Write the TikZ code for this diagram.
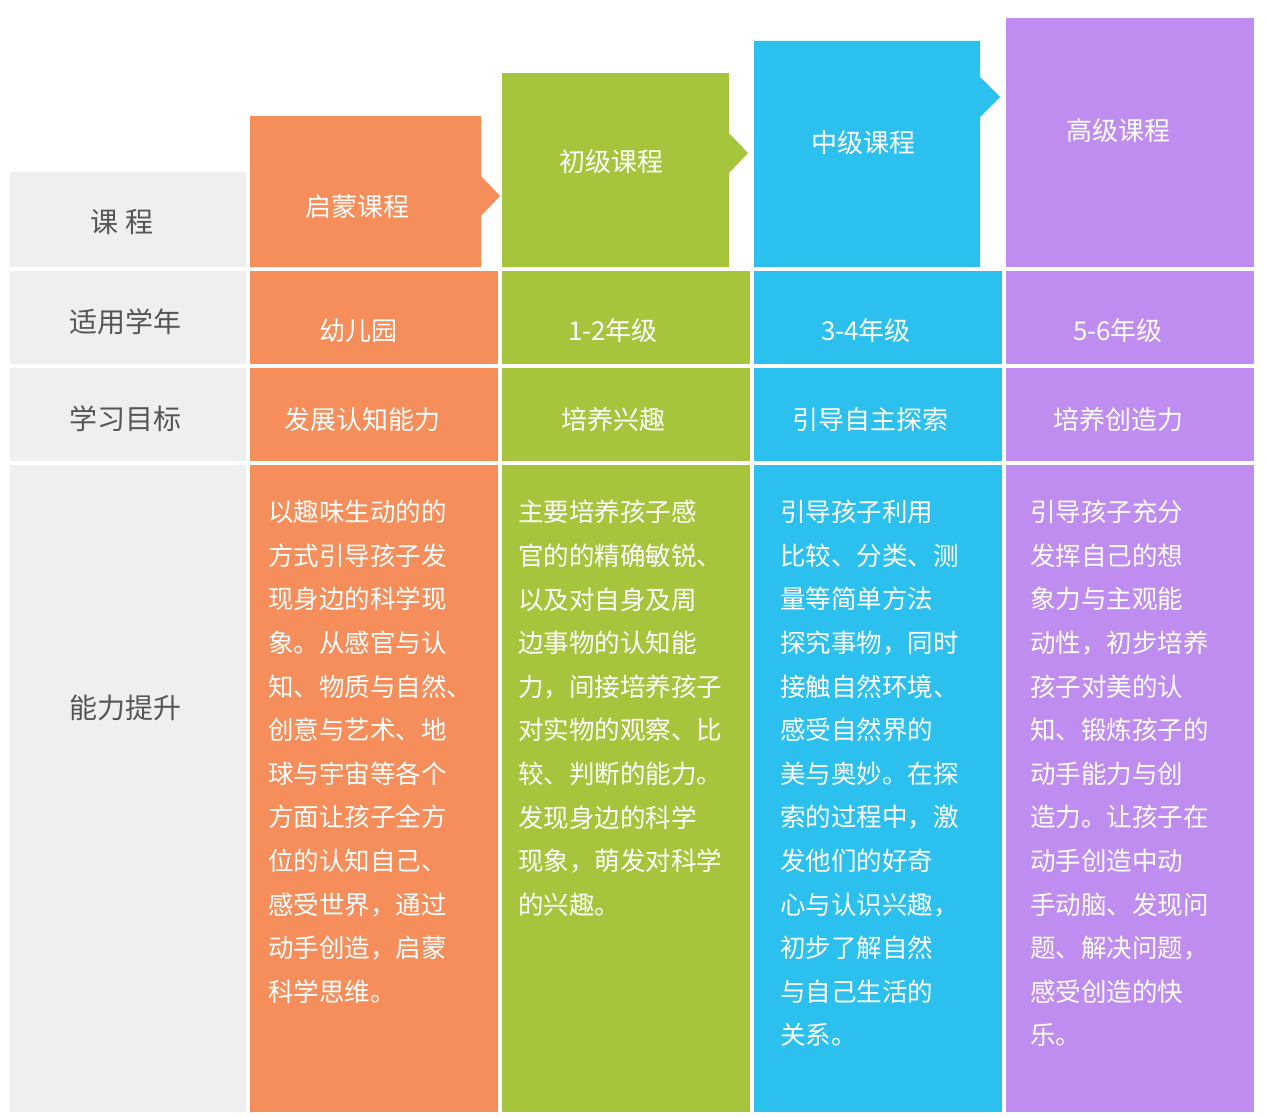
\documentclass[tikz,border=0pt]{standalone}
\usepackage{fontspec}
\setmainfont{Noto Sans CJK SC}
\definecolor{cor}{HTML}{F58E5A}
\definecolor{cgr}{HTML}{A6C53C}
\definecolor{cbl}{HTML}{2CC0EF}
\definecolor{cpu}{HTML}{BF8DEF}
\definecolor{cgy}{HTML}{EFEFEF}
\definecolor{ctx}{HTML}{555555}
\begin{document}
\begin{tikzpicture}[x=1pt,y=-1pt,
  lab/.style={font=\fontsize{28}{30}\selectfont,text=ctx},
  hd/.style={font=\fontsize{26}{30}\selectfont,text=white},
  body/.style={font=\fontsize{25.5}{43.6}\selectfont,text=white,anchor=north west,align=left,inner sep=0pt}]
\useasboundingbox (0,0) rectangle (1268,1116);
\fill[white] (0,0) rectangle (1268,1116);
% gray column
\fill[cgy] (10,172) rectangle (246,267);
\fill[cgy] (10,271) rectangle (246,364);
\fill[cgy] (10,368) rectangle (246,461);
\fill[cgy] (10,465) rectangle (246,1112);
% headers
\fill[cor] (250,116) -- (481,116) -- (481,176) -- (500,196) -- (481,216) -- (481,267) -- (250,267) -- cycle;
\fill[cgr] (502,73) -- (729,73) -- (729,133) -- (748,153) -- (729,173) -- (729,267) -- (502,267) -- cycle;
\fill[cbl] (754,41) -- (980,41) -- (980,77) -- (1000,97) -- (980,117) -- (980,267) -- (754,267) -- cycle;
\fill[cpu] (1006,18) rectangle (1254,267);
% rows
\foreach \c/\x in {cor/250,cgr/502,cbl/754,cpu/1006}{
  \fill[\c] (\x,271) rectangle ++(248,93);
  \fill[\c] (\x,368) rectangle ++(248,93);
  \fill[\c] (\x,465) rectangle ++(248,647);
}
\node[lab] (l1) at (122,222) {课\ 程};
\node[lab] (l2) at (125,322) {适用学年};
\node[lab] (l3) at (125,419) {学习目标};
\node[lab] (l4) at (125,708) {能力提升};
\node[hd] (h1) at (357,207) {启蒙课程};
\node[hd] (h2) at (611,162) {初级课程};
\node[hd] (h3) at (863,143) {中级课程};
\node[hd] (h4) at (1118,131) {高级课程};
\node[hd] (y1) at (358,331) {幼儿园};
\node[hd] (y2) at (613,331) {1-2年级};
\node[hd] (y3) at (866,331) {3-4年级};
\node[hd] (y4) at (1118,331) {5-6年级};
\node[hd] (g1) at (362,420) {发展认知能力};
\node[hd] (g2) at (613,420) {培养兴趣};
\node[hd] (g3) at (870,420) {引导自主探索};
\node[hd] (g4) at (1118,420) {培养创造力};
\node[body] (b1) at (268,500) {以趣味生动的的\\方式引导孩子发\\现身边的科学现\\象。从感官与认\\知、物质与自然、\\创意与艺术、地\\球与宇宙等各个\\方面让孩子全方\\位的认知自己、\\感受世界，通过\\动手创造，启蒙\\科学思维。};
\node[body] (b2) at (518,500) {主要培养孩子感\\官的的精确敏锐、\\以及对自身及周\\边事物的认知能\\力，间接培养孩子\\对实物的观察、比\\较、判断的能力。\\发现身边的科学\\现象，萌发对科学\\的兴趣。};
\node[body] (b3) at (780,500) {引导孩子利用\\比较、分类、测\\量等简单方法\\探究事物，同时\\接触自然环境、\\感受自然界的\\美与奥妙。在探\\索的过程中，激\\发他们的好奇\\心与认识兴趣，\\初步了解自然\\与自己生活的\\关系。};
\node[body] (b4) at (1030,500) {引导孩子充分\\发挥自己的想\\象力与主观能\\动性，初步培养\\孩子对美的认\\知、锻炼孩子的\\动手能力与创\\造力。让孩子在\\动手创造中动\\手动脑、发现问\\题、解决问题，\\感受创造的快\\乐。};
\end{tikzpicture}
\end{document}
